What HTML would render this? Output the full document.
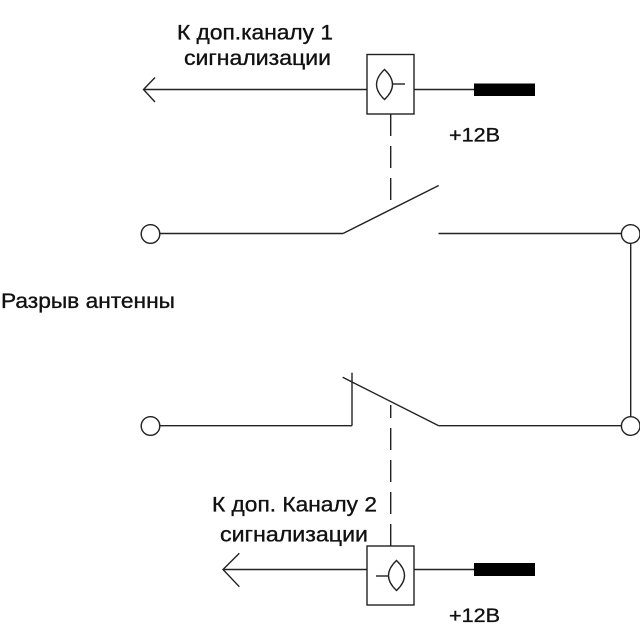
<!DOCTYPE html>
<html>
<head>
<meta charset="utf-8">
<style>
  html, body { margin: 0; padding: 0; background: #ffffff; }
  svg { display: block; }
  text { font-family: "Liberation Sans", "DejaVu Sans", sans-serif; fill: #111; stroke: #111; stroke-width: 0.35; }
</style>
</head>
<body>
<svg width="640" height="638" viewBox="0 0 640 638" xmlns="http://www.w3.org/2000/svg">
  <rect x="0" y="0" width="640" height="638" fill="#fff"/>
  <g stroke="#222" stroke-width="1.4" fill="none">
    <!-- TOP relay -->
    <line x1="143.5" y1="89.5" x2="367" y2="89.5"/>
    <polyline points="155,77.5 143.5,89.5 155,102"/>
    <rect x="367" y="54.5" width="47" height="59.5" fill="#fff"/>
    <path d="M384.5 69.5 Q368.5 84.5 384.5 99.5 Q400.5 84.5 384.5 69.5 Z"/>
    <line x1="392" y1="84" x2="405" y2="84"/>
    <line x1="414" y1="89.5" x2="474" y2="89.5"/>
    <!-- dashed top -->
    <line x1="390.7" y1="114" x2="390.7" y2="203" stroke-dasharray="22 10"/>

    <!-- top switch (open) -->
    <circle cx="150.5" cy="234" r="9.3" fill="#fff"/>
    <line x1="159.8" y1="233.5" x2="343" y2="233.5"/>
    <line x1="343" y1="233.5" x2="438.7" y2="185.5"/>
    <line x1="438.5" y1="233.5" x2="621.2" y2="233.5"/>
    <circle cx="630.7" cy="234" r="9.3" fill="#fff"/>
    <line x1="630.7" y1="243.3" x2="630.7" y2="416.7"/>
    <circle cx="630.7" cy="426" r="9.3" fill="#fff"/>

    <!-- bottom switch (closed) -->
    <circle cx="150.5" cy="426" r="9.3" fill="#fff"/>
    <line x1="159.8" y1="425.7" x2="352" y2="425.7"/>
    <line x1="352" y1="425.7" x2="352" y2="372.7"/>
    <line x1="342.7" y1="377.3" x2="438.7" y2="425.7"/>
    <line x1="438.7" y1="425.7" x2="621.4" y2="425.7"/>

    <!-- dashed bottom -->
    <line x1="390.7" y1="546" x2="390.7" y2="405" stroke-dasharray="22 10"/>

    <!-- BOTTOM relay -->
    <line x1="223" y1="569.5" x2="367" y2="569.5"/>
    <polyline points="239.3,553.3 223,569.5 239.3,586.7"/>
    <rect x="367" y="546" width="47" height="59" fill="#fff"/>
    <path d="M396.5 560.5 Q380.5 575.5 396.5 590.5 Q412.5 575.5 396.5 560.5 Z"/>
    <line x1="376" y1="576" x2="389" y2="576"/>
    <line x1="414" y1="569.5" x2="474" y2="569.5"/>
  </g>
  <!-- black bars -->
  <rect x="474" y="83.5" width="61" height="12.5" fill="#000"/>
  <rect x="474" y="563" width="61" height="13" fill="#000"/>

  <!-- labels -->
  <text x="177" y="39.3" font-size="21.5" textLength="156" lengthAdjust="spacingAndGlyphs">К доп.каналу 1</text>
  <text x="184" y="65" font-size="21.5" textLength="147" lengthAdjust="spacingAndGlyphs">сигнализации</text>
  <text x="449" y="141.7" font-size="19.5" textLength="51" lengthAdjust="spacingAndGlyphs">+12В</text>

  <text x="1" y="308" font-size="21" textLength="174" lengthAdjust="spacingAndGlyphs">Разрыв антенны</text>

  <text x="212" y="511.7" font-size="21.5" textLength="165" lengthAdjust="spacingAndGlyphs">К доп. Каналу 2</text>
  <text x="220" y="541.7" font-size="21.5" textLength="148" lengthAdjust="spacingAndGlyphs">сигнализации</text>
  <text x="449" y="622" font-size="19.5" textLength="51" lengthAdjust="spacingAndGlyphs">+12В</text>
</svg>
</body>
</html>
